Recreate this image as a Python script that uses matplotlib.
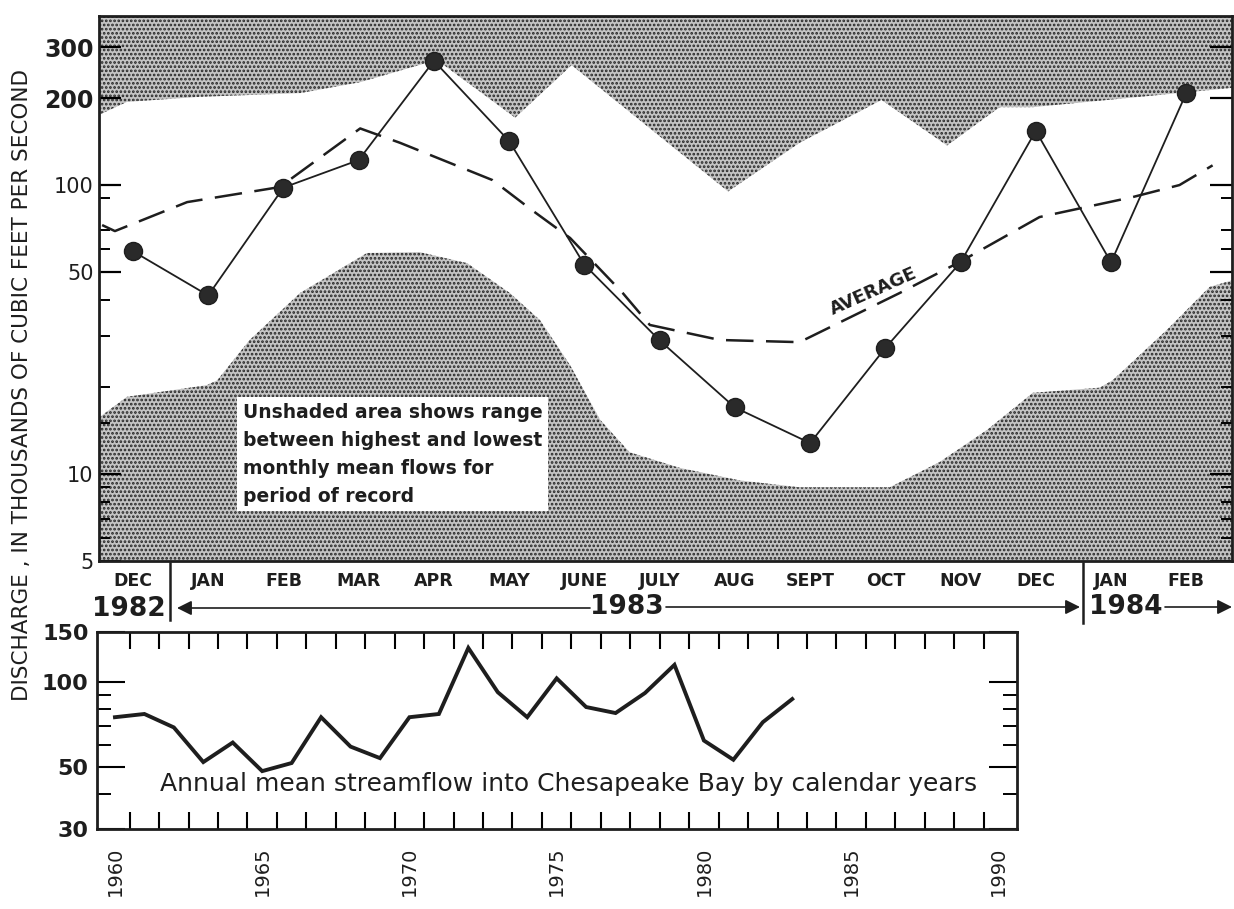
import matplotlib.pyplot as plt
from matplotlib.lines import Line2D

# Monthly mean flow, Dec 1982 - Feb 1984 (thousands of cfs)
months = ['DEC', 'JAN', 'FEB', 'MAR', 'APR', 'MAY', 'JUNE', 'JULY', 'AUG',
          'SEPT', 'OCT', 'NOV', 'DEC', 'JAN', 'FEB']
monthly_flow = [59, 41.5, 98, 122, 269, 142, 53, 29, 17, 12.8, 27.3, 54, 154, 54, 208]

# Highest monthly mean flows for period of record (upper edge of unshaded area)
high_x = [-0.45, -0.08, 0.89, 2.22, 3.02, 4.04, 5.08, 5.83, 7.91, 8.86, 9.95,
          10.82, 11.52, 11.96, 14.62]
high_flow = [175, 194, 202, 208, 227, 271, 171, 260, 95, 140, 197, 137, 186, 186, 217]

# Lowest monthly mean flows for period of record (lower edge of unshaded area)
low_x = [-0.45, -0.08, 0.98, 1.12, 1.55, 2.22, 3.11, 3.81, 4.44, 5.01, 5.41, 5.81,
         6.21, 6.6, 7.27, 8.07, 8.86, 10.06, 10.72, 11.35, 11.96, 12.85, 13.02,
         13.74, 14.31, 14.62]
low_flow = [15.7, 18.5, 20.3, 21.1, 29.1, 42.3, 58.2, 58.6, 53.7, 42.3, 34.1, 23.8,
            15.4, 11.9, 10.5, 9.5, 9.0, 9.0, 11.0, 14.2, 19.1, 19.9, 21.1, 31.5,
            44.4, 46.9]

# Average monthly flow (dashed)
avg_x = [-0.41, -0.24, 0.72, 1.95, 3.02, 3.55, 4.78, 5.3, 5.81, 6.51, 6.87, 7.8,
         8.86, 10.19, 10.99, 12.05, 13.29, 13.91, 14.35]
avg_flow = [72.7, 69.3, 87.3, 98.4, 157, 140, 104, 82, 65.6, 42.3, 32.8, 29.1,
            28.6, 42.3, 54.2, 77.5, 90.9, 100, 117]

# Annual mean streamflow into Chesapeake Bay
years = list(range(1960, 1984))
annual_flow = [75, 77, 69, 52, 61, 48.3, 51.6, 75, 59, 53.7, 75, 77, 132, 92, 75,
               103, 81.5, 77.6, 91.4, 115, 62, 53, 72, 87]

ink = '#1e1e1e'
plt.rcParams['hatch.linewidth'] = 1.3
fig = plt.figure(figsize=(12.34, 9.09), dpi=100)

# ---------------- top panel: monthly flows ----------------
ax = fig.add_axes([0.0802, 0.3828, 0.918, 0.5996])
ax.set_yscale('log')
ax.set_xlim(-0.452, 14.605)
ax.set_ylim(5, 384.6)

# stippled areas outside the record range
stipple = dict(facecolor='#c4c4c4', edgecolor='#262626', hatch='....', linewidth=0)
ax.fill_between(high_x, high_flow, 400, **stipple)
ax.fill_between(low_x, 4, low_flow, **stipple)

ax.plot(avg_x, avg_flow, color=ink, lw=1.8, dashes=(11, 5))
ax.plot(range(len(monthly_flow)), monthly_flow, color=ink, lw=1.3,
        marker='o', markersize=13, markerfacecolor='#2a2a2a', markeredgecolor=ink)

ax.text(9.85, 43, 'AVERAGE', rotation=24, fontsize=13, fontweight='bold',
        color=ink, ha='center', va='center')
ax.text(0.127, 0.196,
        'Unshaded area shows range\nbetween highest and lowest\n'
        'monthly mean flows for\nperiod of record',
        transform=ax.transAxes, fontsize=13.5, fontweight='bold', color=ink,
        ha='left', va='center', linespacing=1.6,
        bbox=dict(facecolor='white', edgecolor='none', pad=4))

ax.set_xticks(range(len(months)))
ax.set_xticklabels(months, fontsize=12.5, fontweight='bold', color=ink)
ax.tick_params(axis='x', length=0, pad=8)

ax.set_yticks([5, 10, 50, 100, 200, 300])
ax.set_yticklabels(['5', '10', '50', '100', '200', '300'], fontsize=15, color=ink)
for lab in ax.get_yticklabels()[-2:]:
    lab.set_fontweight('bold')
    lab.set_fontsize(17)
ax.set_yticks([6, 7, 8, 9, 15, 20, 30, 40, 60, 70, 90], minor=True)
ax.yaxis.set_minor_formatter(plt.NullFormatter())
ax.tick_params(axis='y', which='major', direction='in', length=16, width=1.6,
               left=True, right=True, pad=4)
ax.tick_params(axis='y', which='minor', direction='in', length=8, width=1.4,
               left=True, right=True)
for s in ax.spines.values():
    s.set_linewidth(2)
    s.set_color(ink)

# ---------------- month / year annotation row ----------------
def px(x, y):
    return x / 1234, 1 - y / 909

for xs, y2 in [(170, 620), (1083, 623)]:
    x0, y0 = px(xs, 563)
    x1, y1 = px(xs, y2)
    fig.add_artist(Line2D([x0, x1], [y0, y1], color=ink, lw=1.8))

fig.text(*px(129, 609), '1982', fontsize=19, fontweight='bold', color=ink,
         ha='center', va='center')
fig.text(*px(627, 607), '1983', fontsize=19, fontweight='bold', color=ink,
         ha='center', va='center')
fig.text(*px(1126, 607), '1984', fontsize=19, fontweight='bold', color=ink,
         ha='center', va='center')
arrow = dict(arrowstyle='-|>', color=ink, lw=1.2, mutation_scale=22,
             shrinkA=0, shrinkB=0)
fig.add_artist(plt.Annotation('', xy=px(177, 608), xytext=px(590, 608),
                              xycoords='figure fraction', arrowprops=arrow))
fig.add_artist(plt.Annotation('', xy=px(1080, 607), xytext=px(666, 607),
                              xycoords='figure fraction', arrowprops=arrow))
fig.add_artist(plt.Annotation('', xy=px(1232, 607), xytext=px(1165, 607),
                              xycoords='figure fraction', arrowprops=arrow))

# ---------------- bottom panel: annual flows ----------------
bx = fig.add_axes([0.0786, 0.0875, 0.7455, 0.2169])
bx.set_yscale('log')
bx.set_xlim(1959.39, 1990.63)
bx.set_ylim(30, 150)
bx.plot(years, annual_flow, color=ink, lw=2.8, solid_joinstyle='miter')

bx.text(1975.4, 43.5, 'Annual mean streamflow into Chesapeake Bay by calendar years',
        fontsize=18, color=ink, ha='center', va='center')

bx.set_xticks(range(1960, 1991, 5))
bx.set_xticklabels([str(y) for y in range(1960, 1991, 5)], rotation=90,
                   fontsize=14, color=ink)
bx.set_xticks([y + 0.5 for y in range(1960, 1990)], minor=True)
bx.tick_params(axis='x', which='major', length=0, pad=12)
bx.tick_params(axis='x', which='minor', direction='in', length=12, width=1.5,
               top=True, bottom=True)

bx.set_yticks([30, 50, 100, 150])
bx.set_yticklabels(['30', '50', '100', '150'], fontsize=16, fontweight='bold',
                   color=ink)
bx.set_yticks([40, 60, 70, 80, 90], minor=True)
bx.yaxis.set_minor_formatter(plt.NullFormatter())
bx.tick_params(axis='y', which='major', direction='in', length=20, width=1.5,
               left=True, right=True, pad=6)
bx.tick_params(axis='y', which='minor', direction='in', length=10, width=1.4,
               left=True, right=True)
for s in bx.spines.values():
    s.set_linewidth(2)
    s.set_color(ink)

# shared axis title
fig.text(*px(22, 385), 'DISCHARGE , IN THOUSANDS OF CUBIC FEET PER SECOND',
         rotation=90, fontsize=15.5, color=ink, ha='center', va='center')

fig.savefig('out.png', dpi=100)
